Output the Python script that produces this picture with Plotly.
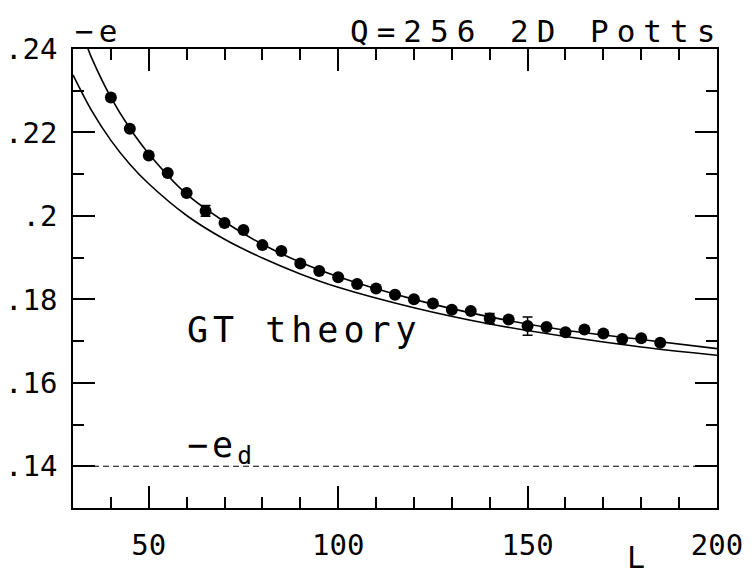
import plotly.graph_objects as go

# measured data points
L_data = [40, 45, 50, 55, 60, 65, 70, 75, 80, 85, 90, 95, 100, 105, 110, 115, 120,
          125, 130, 135, 140, 145, 150, 155, 160, 165, 170, 175, 180, 185]
e_data = [0.2284, 0.2209, 0.2145, 0.2103, 0.2055, 0.2012, 0.1983, 0.1966, 0.1930, 0.1916,
          0.1886, 0.1868, 0.1853, 0.1837, 0.1826, 0.1811, 0.1800, 0.1790, 0.1775, 0.1772,
          0.1754, 0.1752, 0.1736, 0.1734, 0.1721, 0.1728, 0.1718, 0.1705, 0.1707, 0.1696]
e_err = [0, 0, 0, 0, 0, 0.0013, 0, 0, 0, 0, 0, 0, 0, 0, 0, 0, 0,
         0, 0, 0, 0.0012, 0, 0.0022, 0, 0, 0, 0, 0, 0, 0]

# fit curve through data
L_fit = [33.9, 35, 40, 45, 50, 60, 70, 80, 90, 100, 120, 140, 160, 180, 200]
e_fit = [0.2402, 0.2377, 0.2284, 0.2210, 0.2149, 0.2052, 0.1986, 0.1932, 0.1889, 0.1854,
         0.1800, 0.1758, 0.1726, 0.1704, 0.1682]

# GT theory curve
L_gt = [30, 35, 40, 45, 50, 60, 70, 80, 90, 100, 120, 140, 160, 180, 200]
e_gt = [0.2338, 0.2251, 0.2181, 0.2124, 0.2077, 0.2001, 0.1944, 0.1899, 0.1861, 0.1829,
        0.1780, 0.1741, 0.1711, 0.1686, 0.1666]

# disordered energy level
e_d = 0.14
L_range = [30, 200]

x_ticks = [50, 100, 150, 200]
y_ticks = [0.14, 0.16, 0.18, 0.20, 0.22, 0.24]
y_ticktext = [".14", ".16", ".18", ".2", ".22", ".24"]

FONT = "DejaVu Sans Mono"

fig = go.Figure()
fig.add_trace(go.Scatter(x=L_gt, y=e_gt, mode="lines",
                         line=dict(color="black", width=1.6, shape="spline"),
                         showlegend=False, hoverinfo="skip"))
fig.add_trace(go.Scatter(x=L_fit, y=e_fit, mode="lines",
                         line=dict(color="black", width=1.6, shape="spline"),
                         showlegend=False, hoverinfo="skip"))
fig.add_trace(go.Scatter(x=L_range, y=[e_d, e_d], mode="lines",
                         line=dict(color="black", width=1.2, dash="6px,4px"),
                         showlegend=False, hoverinfo="skip"))
fig.add_trace(go.Scatter(x=L_data, y=e_data, mode="markers",
                         marker=dict(color="black", size=12),
                         error_y=dict(type="data", array=e_err, visible=True,
                                      color="black", thickness=1.5, width=5),
                         showlegend=False))

axis_common = dict(showline=True, linecolor="black", linewidth=1.5, mirror="allticks",
                   ticks="inside", ticklen=22, tickwidth=1.5, tickcolor="black",
                   showgrid=False, zeroline=False, automargin=False,
                   tickfont=dict(family=FONT, size=29, color="black"))

fig.update_xaxes(range=[30, 200], tickvals=x_ticks, ticklabelstandoff=10,
                 minor=dict(dtick=10, tick0=0, ticks="inside", ticklen=11,
                            tickwidth=1.5, tickcolor="black"),
                 **axis_common)
fig.update_yaxes(range=[0.13, 0.24], tickvals=y_ticks, ticktext=y_ticktext,
                 ticklabelstandoff=8,
                 minor=dict(dtick=0.01, tick0=0, ticks="inside", ticklen=11,
                            tickwidth=1.5, tickcolor="black"),
                 **axis_common)

fig.add_annotation(text='<span style="letter-spacing:5px">−e</span>', xref="paper", yref="paper",
                   x=0, y=1, xanchor="left", yanchor="bottom", xshift=0, yshift=-2,
                   showarrow=False, font=dict(family=FONT, size=31, color="black"))
fig.add_annotation(text='<span style="letter-spacing:8px">Q=256 2D Potts</span>',
                   xref="paper", yref="paper", x=1, y=1, xanchor="right", yanchor="bottom",
                   xshift=8, yshift=-2, showarrow=False,
                   font=dict(family=FONT, size=31, color="black"))
fig.add_annotation(text='<span style="letter-spacing:5px">GT theory</span>', xref="x", yref="y",
                   x=59.5, y=0.1726, xanchor="left", yanchor="middle",
                   showarrow=False, font=dict(family=FONT, size=35, color="black"))
fig.add_annotation(text='<span style="letter-spacing:4px">−e<sub>d</sub></span>', xref="x", yref="y",
                   x=59.5, y=0.1445, xanchor="left", yanchor="middle",
                   showarrow=False, font=dict(family=FONT, size=35, color="black"))
fig.add_annotation(text="L", xref="x", yref="paper", x=178.7, y=0, yanchor="top",
                   yshift=-31, showarrow=False, borderpad=0,
                   font=dict(family=FONT, size=30, color="black"))

fig.update_layout(width=752, height=574, margin=dict(l=73, r=35, t=49, b=66),
                  plot_bgcolor="white", paper_bgcolor="white")

fig.write_html("out.html", config={"displayModeBar": False},
               post_script="document.body.style.margin='0';document.body.style.padding='0';")
